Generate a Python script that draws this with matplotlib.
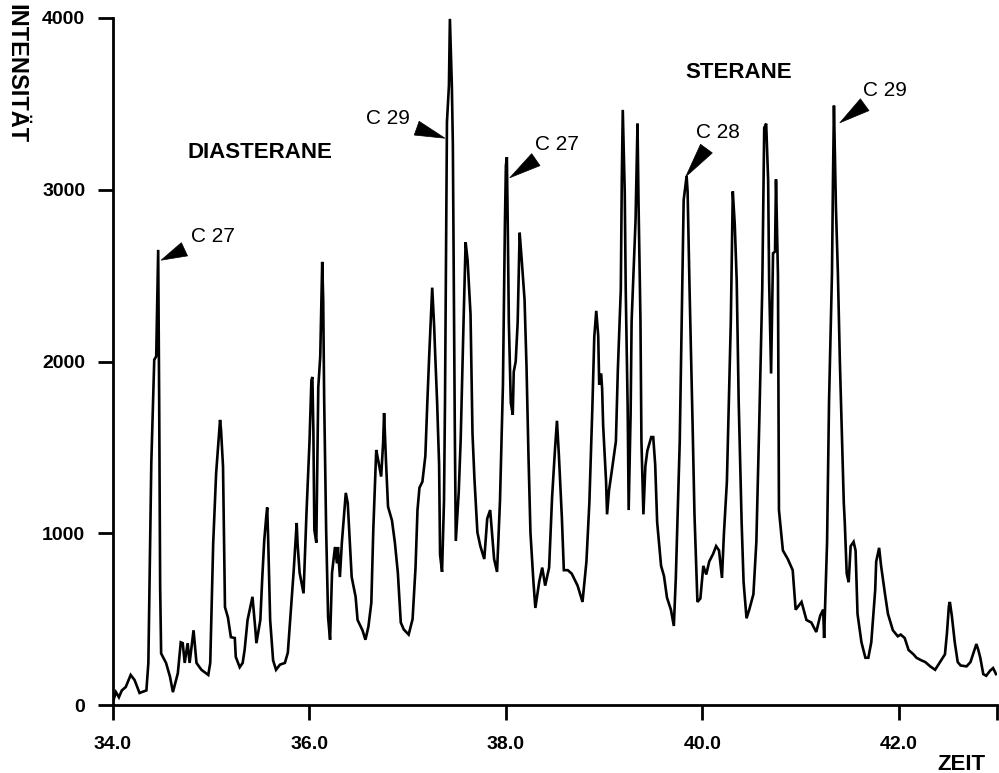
import numpy as np
import matplotlib
matplotlib.use("Agg")
import matplotlib.pyplot as plt

plt.rcParams['font.family'] = ['Liberation Sans', 'DejaVu Sans']

# retention time (min) and intensity
zeit = [34.00, 34.03, 34.06, 34.09, 34.13, 34.18, 34.22, 34.27, 34.34, 34.36,
        34.39, 34.42, 34.44, 34.46, 34.47, 34.48, 34.49, 34.54, 34.58, 34.61,
        34.66, 34.69, 34.71, 34.73, 34.76, 34.78, 34.82, 34.85, 34.90, 34.97,
        34.99, 35.02, 35.05, 35.09, 35.10, 35.12, 35.14, 35.17, 35.20, 35.24,
        35.25, 35.29, 35.32, 35.34, 35.37, 35.42, 35.45,
        35.46, 35.50, 35.52, 35.54, 35.56, 35.57, 35.58, 35.60, 35.63, 35.66,
        35.70, 35.75, 35.78, 35.82, 35.84, 35.87, 35.88, 35.90, 35.92, 35.94,
        35.97, 36.00, 36.02, 36.03, 36.04, 36.05, 36.07, 36.09, 36.11, 36.13,
        36.14, 36.15, 36.17, 36.19, 36.21, 36.23, 36.26, 36.28, 36.29, 36.31,
        36.33, 36.37, 36.39, 36.41, 36.43, 36.47, 36.49, 36.54, 36.57, 36.60,
        36.63, 36.65, 36.68, 36.70, 36.73, 36.75, 36.76, 36.78, 36.80, 36.84,
        36.87, 36.90, 36.93, 36.96,
        37.01, 37.05, 37.08, 37.10, 37.12, 37.15, 37.18, 37.20, 37.22, 37.25,
        37.27, 37.28, 37.30, 37.32, 37.33, 37.35, 37.37, 37.38, 37.40, 37.42,
        37.43, 37.45, 37.46, 37.47, 37.48, 37.49, 37.52, 37.54, 37.57, 37.59,
        37.61, 37.64, 37.66, 37.68, 37.71, 37.74, 37.78, 37.81, 37.84, 37.88,
        37.91, 37.94, 37.97, 37.99, 38.00, 38.01, 38.02, 38.03, 38.05, 38.07,
        38.08, 38.10, 38.12, 38.14, 38.16, 38.19, 38.21, 38.23, 38.25, 38.28,
        38.30, 38.34, 38.37, 38.40, 38.44,
        38.47, 38.50, 38.52, 38.54, 38.57, 38.59, 38.63, 38.67, 38.73, 38.78,
        38.82, 38.85, 38.88, 38.90, 38.92, 38.94, 38.95, 38.97, 38.98, 38.99,
        39.02, 39.03, 39.05, 39.08, 39.12, 39.14, 39.17, 39.18, 39.19, 39.21,
        39.22, 39.24, 39.25, 39.27, 39.28, 39.32, 39.34, 39.35, 39.37, 39.38,
        39.40, 39.42, 39.44, 39.48, 39.50, 39.52, 39.54, 39.58, 39.61, 39.64,
        39.68, 39.71, 39.73, 39.77, 39.79, 39.81, 39.84, 39.85, 39.87, 39.90,
        39.92, 39.95,
        39.98, 40.01, 40.04, 40.07, 40.11, 40.14, 40.17, 40.20, 40.22, 40.25,
        40.27, 40.29, 40.31, 40.33, 40.35, 40.37, 40.40, 40.42, 40.45, 40.48,
        40.52, 40.55, 40.58, 40.61, 40.63, 40.65, 40.67, 40.68, 40.70, 40.72,
        40.74, 40.75, 40.77, 40.78, 40.82, 40.87, 40.92, 40.95, 41.01, 41.06,
        41.11, 41.16, 41.20, 41.23, 41.24, 41.27, 41.29, 41.32, 41.33, 41.34,
        41.36, 41.38, 41.40, 41.42, 41.44,
        41.45, 41.47, 41.49, 41.51, 41.54, 41.56, 41.58, 41.62, 41.66, 41.69,
        41.72, 41.76, 41.77, 41.80, 41.82, 41.86, 41.89, 41.94, 41.99, 42.02,
        42.06, 42.10, 42.15, 42.18, 42.23, 42.27, 42.32, 42.37, 42.42, 42.47,
        42.49, 42.51, 42.52, 42.54, 42.57, 42.60, 42.63, 42.69, 42.73, 42.77,
        42.79, 42.81, 42.83, 42.86, 42.89, 42.93, 42.96, 42.99]

intensitaet = [20, 75, 45, 85, 105, 175, 145, 70, 85, 245,
               1410, 2010, 2030, 2650, 1780, 690, 300, 245, 165, 75,
               185, 365, 360, 245, 360, 245, 435, 245, 205, 175,
               245, 940, 1350, 1660, 1600, 1390, 570, 510, 395, 390,
               280, 220, 245, 320, 495, 630, 435,
               360, 495, 745, 960, 1095, 1150, 960, 495, 260, 205,
               235, 245, 305, 630, 785, 1060, 930, 770, 710, 650,
               1120, 1525, 1890, 1910, 1600, 1020, 945, 1850, 2030, 2580,
               2360, 1775, 1020, 510, 380, 770, 920, 825, 920, 745,
               945, 1235, 1175, 960, 745, 630, 495, 435, 380, 455,
               595, 1020, 1485, 1425, 1330, 1525, 1700, 1410, 1155, 1075,
               945, 770, 480, 440,
               410, 500, 800, 1135, 1265, 1300, 1450, 1760, 2045, 2430,
               2200, 2045, 1760, 1400, 875, 775, 1190, 1760, 3395, 3605,
               3995, 3600, 3265, 2410, 1600, 955, 1240, 1550, 2255, 2695,
               2590, 2275, 1580, 1315, 1005, 925, 850, 1085, 1135, 850,
               775, 1190, 1865, 2800, 3140, 3190, 2750, 2230, 1760, 1690,
               1940, 2000, 2230, 2750, 2600, 2360, 1970, 1450, 1005, 720,
               565, 720, 800, 695, 800,
               1205, 1490, 1655, 1450, 1090, 785, 785, 765, 695, 600,
               835, 1180, 1725, 2145, 2295, 2150, 1865, 1930, 1840, 1630,
               1300, 1110, 1250, 1370, 1535, 1955, 2420, 3055, 3465, 2985,
               2420, 1725, 1135, 1700, 2235, 2820, 3385, 2940, 2240, 1535,
               1110, 1390, 1480, 1560, 1560, 1400, 1065, 810, 750, 625,
               555, 460, 740, 1535, 2235, 2940, 3080, 2990, 2420, 1655,
               1110, 600,
               620, 810, 760, 835, 880, 925, 900, 740, 1000, 1300,
               1770, 2235, 2990, 2800, 2470, 1770, 1065, 715, 505, 560,
               645, 950, 1655, 2420, 3360, 3385, 3055, 2470, 1930, 2630,
               2640, 3060, 2500, 1135, 900, 850, 785, 555, 600, 495,
               480, 425, 520, 555, 390, 950, 1770, 2515, 3055, 3490,
               2900, 2515, 2005, 1585, 1180,
               1065, 765, 715, 925, 950, 900, 530, 365, 275, 275,
               365, 670, 835, 915, 810, 645, 530, 435, 400, 410,
               390, 320, 295, 275, 260, 250, 225, 205, 250, 295,
               415, 575, 600, 520, 365, 250, 230, 225, 250, 320,
               355, 320, 275, 180, 170, 200, 215, 180]

x_ticks = [34.0, 36.0, 38.0, 40.0, 42.0, 43.0]
x_tick_labels = ["34.0", "36.0", "38.0", "40.0", "42.0", ""]
y_ticks = [0, 1000, 2000, 3000, 4000]
y_tick_labels = ["0", "1000", "2000", "3000", "4000"]

peak_labels = ["C 27", "C 29", "C 27", "C 28", "C 29"]
# arrow tip positions on the trace (time, intensity)
tip_zeit = [34.49, 37.38, 38.04, 39.83, 41.40]
tip_int = [2590, 3300, 3070, 3075, 3390]

W, H = 999, 773
fig = plt.figure(figsize=(W / 100, H / 100), dpi=100)
ax = fig.add_axes([113 / W, 68 / H, (997 - 113) / W, (755 - 68) / H])

ax.plot(zeit, intensitaet, color='black', linewidth=1.9, solid_joinstyle='miter')

ax.set_xlim(34.0, 43.0)
ax.set_ylim(0, 4000)
ax.spines['top'].set_visible(False)
ax.spines['right'].set_visible(False)
for s in ('left', 'bottom'):
    ax.spines[s].set_linewidth(2.0)

ax.set_xticks(x_ticks)
ax.set_xticklabels(x_tick_labels, fontweight='bold', fontsize=14)
ax.set_yticks(y_ticks)
ax.set_yticklabels(y_tick_labels, fontweight='bold', fontsize=14)
ax.tick_params(axis='both', direction='out', length=11, width=2.0, pad=9)
ax.tick_params(axis='x', pad=11)

# axis titles
fig.text(16 / W, 1 - 74 / H, "INTENSITÄT", rotation=-90, fontsize=17,
         fontweight='bold', ha='center', va='center')
fig.text(961 / W, 1 - 764 / H, "ZEIT", fontsize=16, fontweight='bold',
         ha='center', va='center')

# group labels
fig.text(260 / W, 1 - 152 / H, "DIASTERANE", fontsize=16, fontweight='bold',
         ha='center', va='center')
fig.text(739 / W, 1 - 72 / H, "STERANE", fontsize=16, fontweight='bold',
         ha='center', va='center')

# peak annotations: text anchor in figure pixels
text_px = [(191, 236), (410, 118), (535, 145), (696, 133), (863, 90)]
aligns = ['left', 'right', 'left', 'left', 'left']
for lab, tz, ti, (tx, ty), al in zip(peak_labels, tip_zeit, tip_int, text_px, aligns):
    ax.annotate(lab, xy=(tz, ti), xytext=(tx, H - ty), textcoords='figure pixels',
                ha=al, va='center', fontsize=15,
                arrowprops=dict(arrowstyle='wedge,tail_width=0.7,shrink_factor=0.5',
                                fc='black', ec='black', lw=0.5, shrinkA=3, shrinkB=0))

fig.savefig("out.png", dpi=100)
